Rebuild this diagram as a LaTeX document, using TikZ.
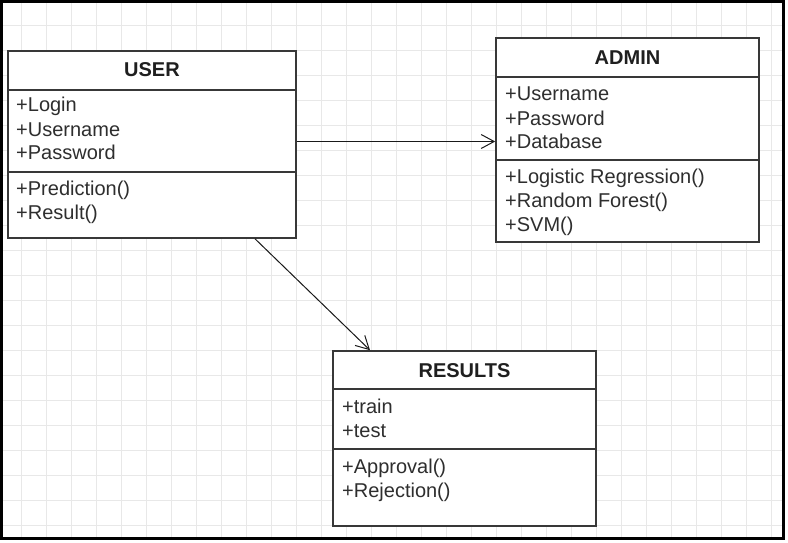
\documentclass[tikz,border=0pt]{standalone}
\usepackage{fontspec}
\setmainfont{Liberation Sans}
\usetikzlibrary{arrows,arrows.meta,positioning}

\begin{document}
\begin{tikzpicture}[x=1pt,y=-1pt,
classbox/.style={draw=black!78,line width=1.6pt,fill=white,inner sep=0pt},
sepline/.style={draw=black!78,line width=1.3pt},
classname/.style={anchor=base,inner sep=0pt,font=\bfseries\fontsize{20}{23}\selectfont,text=black!88},
member/.style={anchor=base west,inner sep=0pt,font=\fontsize{20}{23}\selectfont,text=black!82},
umlarrow/.style={draw=black!90,line width=1pt,-{Straight Barb[length=13pt,width=14pt]}},
gridline/.style={draw=black!9,line width=0.7pt}]
\useasboundingbox (0,0) rectangle (788,543);
\foreach \gx in {21,46,...,771} \draw[gridline] (\gx,3) -- (\gx,537);
\foreach \gy in {25,50,...,525} \draw[gridline] (3,\gy) -- (782,\gy);
\draw[line width=3pt] (1.5,1.5) rectangle (783.5,538.5);
% USER
\node[classbox,minimum width=288pt,minimum height=187pt] (user) at (152,144.5) {};
\node[classname] (usertitle) at (152,77) {USER};
\draw[sepline] (user.west |- 0,90) -- (user.east |- 0,90);
\draw[sepline] (user.west |- 0,172) -- (user.east |- 0,172);
\foreach \txt [count=\i] in {Login,Username,Password}
  \node[member] (user-a\i) at (16,88+24*\i) {+\txt};
\foreach \txt [count=\i] in {Prediction(),Result()}
  \node[member] (user-m\i) at (16,171+24*\i) {+\txt};
% ADMIN
\node[classbox,minimum width=263pt,minimum height=204pt] (admin) at (627.5,140) {};
\node[classname] (admintitle) at (627.5,65) {ADMIN};
\draw[sepline] (admin.west |- 0,77) -- (admin.east |- 0,77);
\draw[sepline] (admin.west |- 0,160) -- (admin.east |- 0,160);
\foreach \txt [count=\i] in {Username,Password,Database}
  \node[member] (admin-a\i) at (505,77+24*\i) {+\txt};
\foreach \txt [count=\i] in {Logistic Regression(),Random Forest(),SVM()}
  \node[member] (admin-m\i) at (505,159+24*\i) {+\txt};
% RESULTS
\node[classbox,minimum width=263pt,minimum height=175pt] (results) at (464.5,438.5) {};
\node[classname] (resultstitle) at (464.5,377) {RESULTS};
\draw[sepline] (results.west |- 0,389) -- (results.east |- 0,389);
\draw[sepline] (results.west |- 0,449) -- (results.east |- 0,449);
\foreach \txt [count=\i] in {train,test}
  \node[member] (results-a\i) at (342,389+24*\i) {+\txt};
\foreach \txt [count=\i] in {Approval(),Rejection()}
  \node[member] (results-m\i) at (342,449+24*\i) {+\txt};
\coordinate (ua) at ([yshift=3pt]user.east);
\draw[umlarrow] (ua) -- (ua -| admin.west);
\draw[umlarrow] ([xshift=103pt]user.south) -- ([xshift=-94.5pt]results.north);
\end{tikzpicture}
\end{document}
